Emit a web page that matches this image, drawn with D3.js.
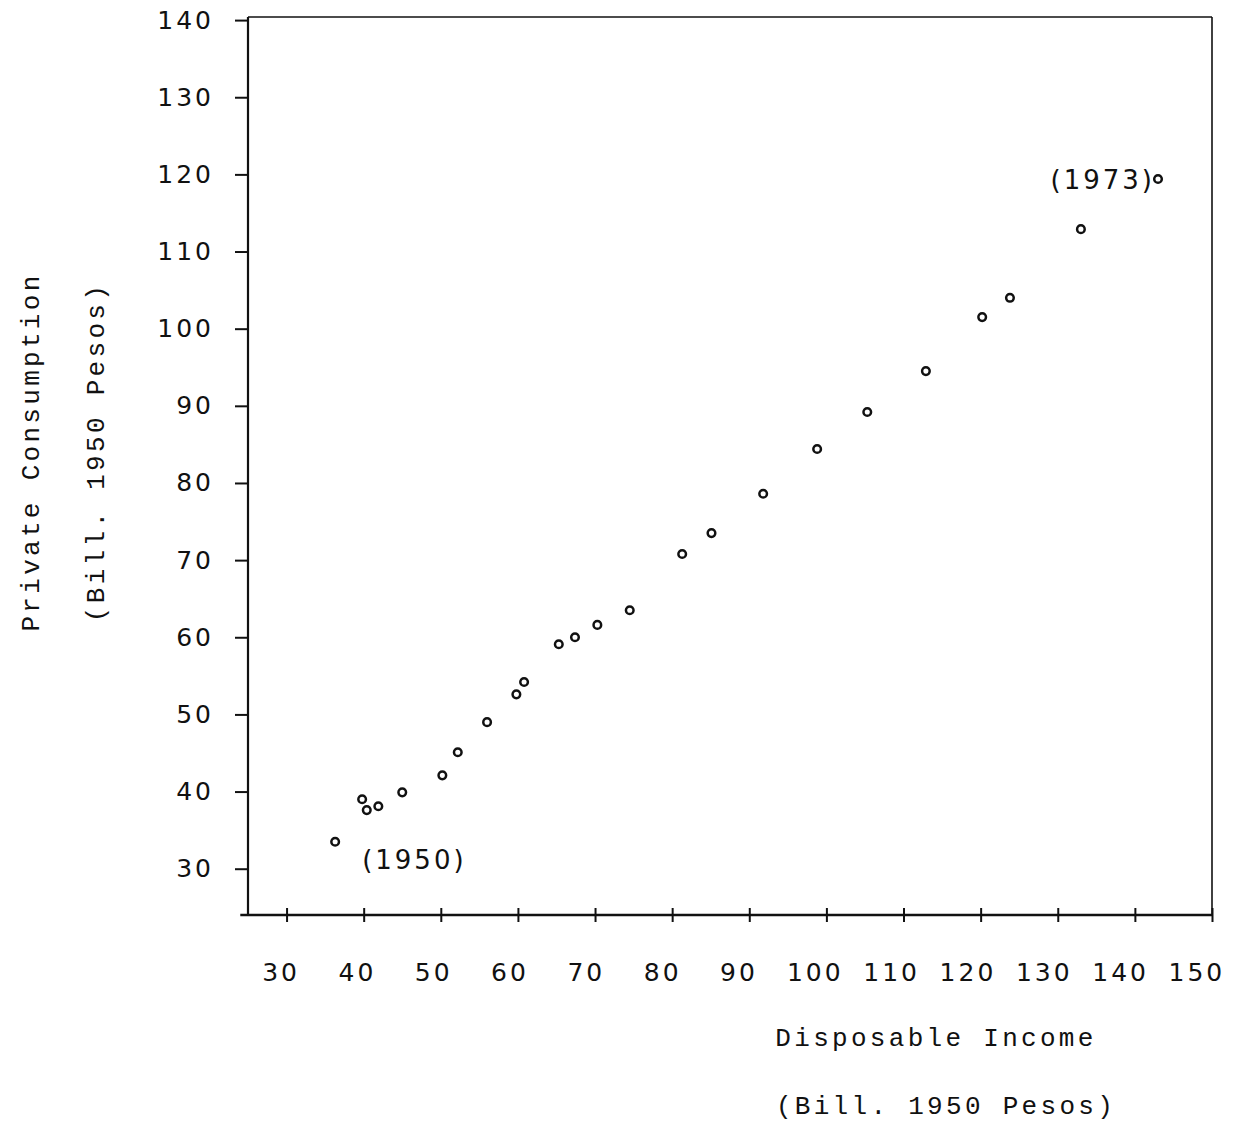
<!DOCTYPE html>
<html><head><meta charset="utf-8">
<script src="https://cdn.jsdelivr.net/npm/d3@7/dist/d3.min.js"></script>
<style>body{margin:0;background:#fff}</style>
</head><body>
<script>
const incomeValues = [36.3,39.8,40.4,41.9,45.0,50.2,52.2,56.0,59.8,60.8,65.3,67.4,70.3,74.5,81.3,85.1,91.8,98.8,105.3,112.9,120.2,123.8,133.0,143.0];
const consumptionValues = [33.5,39.0,37.6,38.1,39.9,42.1,45.1,49.0,52.6,54.2,59.1,60.0,61.6,63.5,70.8,73.5,78.6,84.4,89.2,94.5,101.5,104.0,112.9,119.4];
const xTickValues = [30,40,50,60,70,80,90,100,110,120,130,140,150];
const yTickValues = [30,40,50,60,70,80,90,100,110,120,130,140];
const yearLabels = [{text:"(1950)", i:0}, {text:"(1973)", i:23}];

const W=1251,H=1123;
const svg=d3.select("body").append("svg").attr("width",W).attr("height",H);
const x=d3.scaleLinear().domain([25,150]).range([248,1212]);
const y=d3.scaleLinear().domain([24,140.4]).range([915,17]);
const ink="#111";
const tickFont="'DejaVu Sans', sans-serif";
const titleFont="'Liberation Mono', monospace";

// frame top/right
svg.append("line").attr("x1",x(25)).attr("x2",x(150)).attr("y1",y(140.4)).attr("y2",y(140.4)).attr("stroke",ink).attr("stroke-width",1.6);
svg.append("line").attr("x1",x(150)).attr("x2",x(150)).attr("y1",y(140.4)).attr("y2",y(24)).attr("stroke",ink).attr("stroke-width",1.6);

// y axis
const yAxis=svg.append("g").attr("transform",`translate(${x(25)},0)`)
  .call(d3.axisLeft(y).tickValues(yTickValues).tickSize(13).tickPadding(21).tickFormat(d3.format("d")));
yAxis.select(".domain").attr("stroke",ink).attr("stroke-width",2.2).attr("d",`M0,${y(140.4)}V${y(24)}`);
yAxis.selectAll(".tick line").attr("stroke",ink).attr("stroke-width",2);
yAxis.selectAll(".tick text").attr("font-family",tickFont).attr("font-size",25).attr("letter-spacing",3).attr("fill",ink);

// x axis
const xAxis=svg.append("g").attr("transform",`translate(0,${y(24)})`)
  .call(d3.axisBottom(x).tickValues(xTickValues).tickSizeInner(7).tickSizeOuter(0).tickPadding(41).tickFormat(d3.format("d")));
xAxis.select(".domain").attr("stroke",ink).attr("stroke-width",2.4).attr("d",`M${x(24)},0H${x(150)}`);
xAxis.selectAll(".tick line").attr("stroke",ink).attr("stroke-width",2).attr("y1",-7).attr("y2",7);
xAxis.selectAll(".tick text").attr("font-family",tickFont).attr("font-size",25).attr("letter-spacing",3).attr("fill",ink)
  .attr("dx",d=>-6-(d-30)*0.08);

// points
const pts=incomeValues.map((v,i)=>({x:v,y:consumptionValues[i]}));
svg.append("g").selectAll("circle").data(pts).join("circle")
  .attr("cx",d=>x(d.x)).attr("cy",d=>y(d.y)).attr("r",3.8)
  .attr("fill","#fff").attr("stroke",ink).attr("stroke-width",2.5);

// year labels
svg.append("text").attr("x",x(pts[0].x)+27).attr("y",y(pts[0].y)+27)
  .attr("font-family",tickFont).attr("font-size",26).attr("letter-spacing",3).attr("fill",ink).text(yearLabels[0].text);
svg.append("text").attr("x",x(pts[23].x)-3).attr("y",y(pts[23].y)+10).attr("text-anchor","end")
  .attr("font-family",tickFont).attr("font-size",26).attr("letter-spacing",3).attr("fill",ink).text(yearLabels[1].text);

// titles
const tAttrs=sel=>sel.attr("text-anchor","middle").attr("font-family",titleFont).attr("font-size",26).attr("letter-spacing",3.3).attr("fill",ink);
svg.append("text").attr("transform","translate(39,452) rotate(-90)").call(tAttrs).text("Private Consumption");
svg.append("text").attr("transform","translate(104,452) rotate(-90)").call(tAttrs).text("(Bill. 1950 Pesos)");
svg.append("text").attr("x",936).attr("y",1046).call(tAttrs).text("Disposable Income");
svg.append("text").attr("x",946).attr("y",1114).call(tAttrs).text("(Bill. 1950 Pesos)");
</script>
</body></html>
